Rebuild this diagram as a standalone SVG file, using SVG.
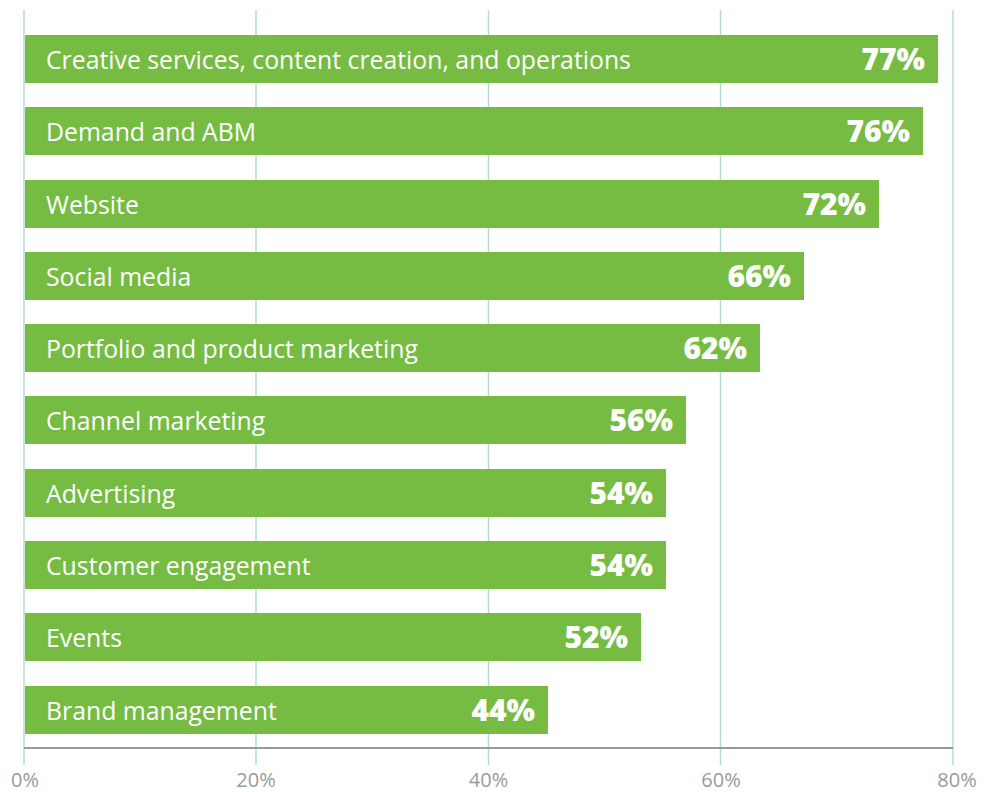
<svg xmlns="http://www.w3.org/2000/svg" width="994" height="792" viewBox="0 0 994 792">
<style>
.grid{stroke:#b3dcd8;stroke-width:1.5}
.axis{stroke:#999;stroke-width:2}
.bar{fill:#76bc43}
.lbl{font-family:"Open Sans",sans-serif;font-size:24.8px;font-weight:500;fill:#fff}
.pct{font-family:"Open Sans",sans-serif;font-size:30px;font-weight:800;fill:#fff;text-anchor:end}
.tick{font-family:"Open Sans",sans-serif;font-size:20px;font-weight:400;fill:#9a9a9a;text-anchor:middle}
</style>
<rect width="994" height="792" fill="#fff"/>
<g id="grid">
<line class="grid" x1="24" y1="10" x2="24" y2="765"/>
<line class="grid" x1="256" y1="10" x2="256" y2="765"/>
<line class="grid" x1="488.5" y1="10" x2="488.5" y2="765"/>
<line class="grid" x1="720.5" y1="10" x2="720.5" y2="765"/>
<line class="grid" x1="953" y1="10" x2="953" y2="765"/>
</g>
<g id="bars">
<g id="b1"><rect class="bar" x="25" y="35" width="913" height="48"/><text class="lbl" x="46" y="69">Creative services, content creation, and operations</text><text class="pct" x="925" y="70">77%</text></g>
<g id="b2"><rect class="bar" x="25" y="107" width="898" height="48"/><text class="lbl" x="46" y="141">Demand and ABM</text><text class="pct" x="910" y="142">76%</text></g>
<g id="b3"><rect class="bar" x="25" y="180" width="854" height="48"/><text class="lbl" x="46" y="214">Website</text><text class="pct" x="866" y="215">72%</text></g>
<g id="b4"><rect class="bar" x="25" y="252" width="779" height="48"/><text class="lbl" x="46" y="286">Social media</text><text class="pct" x="791" y="287">66%</text></g>
<g id="b5"><rect class="bar" x="25" y="324" width="735" height="48"/><text class="lbl" x="46" y="358">Portfolio and product marketing</text><text class="pct" x="747" y="359">62%</text></g>
<g id="b6"><rect class="bar" x="25" y="396" width="661" height="48"/><text class="lbl" x="46" y="430">Channel marketing</text><text class="pct" x="673" y="431">56%</text></g>
<g id="b7"><rect class="bar" x="25" y="469" width="641" height="48"/><text class="lbl" x="46" y="503">Advertising</text><text class="pct" x="653" y="504">54%</text></g>
<g id="b8"><rect class="bar" x="25" y="541" width="641" height="48"/><text class="lbl" x="46" y="575">Customer engagement</text><text class="pct" x="653" y="576">54%</text></g>
<g id="b9"><rect class="bar" x="25" y="613" width="616" height="48"/><text class="lbl" x="46" y="647">Events</text><text class="pct" x="628" y="648">52%</text></g>
<g id="b10"><rect class="bar" x="25" y="686" width="523" height="48"/><text class="lbl" x="46" y="720">Brand management</text><text class="pct" x="535" y="721">44%</text></g>
</g>
<g id="axis">
<line class="axis" x1="24" y1="748" x2="953" y2="748"/>
<text class="tick" x="25" y="787">0%</text>
<text class="tick" x="256" y="787">20%</text>
<text class="tick" x="488.5" y="787">40%</text>
<text class="tick" x="721" y="787">60%</text>
<text class="tick" x="957" y="787">80%</text>
</g>
</svg>
